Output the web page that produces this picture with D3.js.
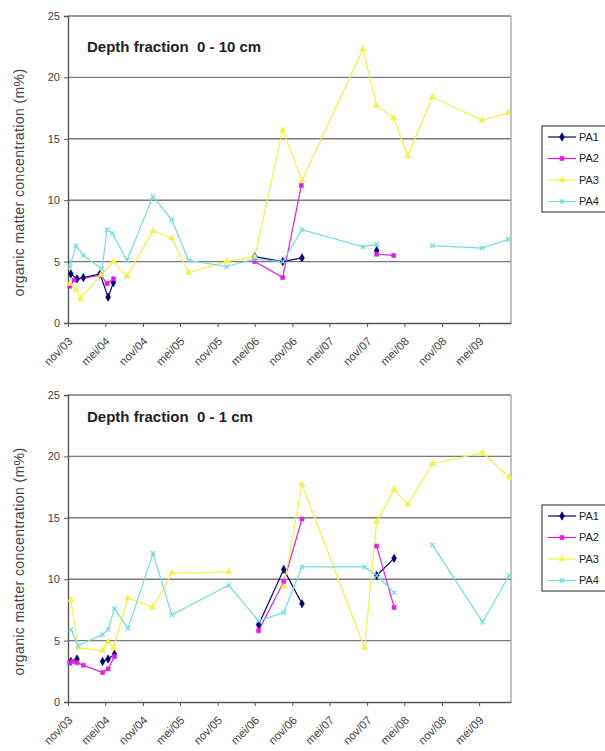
<!DOCTYPE html>
<html>
<head>
<meta charset="utf-8">
<script src="https://cdn.jsdelivr.net/npm/d3@7"></script>
<style>
  body { margin: 0; background: #fff; }
  text { font-family: Arial, "Liberation Sans", sans-serif; }
</style>
</head>
<body>
<div id="chart"></div>
<script>
const width = 605;
const height = 751;

// series names and colours (Excel 2003 default line series)
const seriesNames = ["PA1", "PA2", "PA3", "PA4"];
const seriesColors = ["#000070", "#e020e0", "#f2f247", "#72dede"];

const yTicks = [0, 5, 10, 15, 20, 25];
const tickDates = ["2003-11-01", "2004-05-01", "2004-11-01", "2005-05-01", "2005-11-01", "2006-05-01",
    "2006-11-01", "2007-05-01", "2007-11-01", "2008-05-01", "2008-11-01", "2009-05-01"];
const tickLabels = ["nov/03", "mei/04", "nov/04", "mei/05", "nov/05", "mei/06",
    "nov/06", "mei/07", "nov/07", "mei/08", "nov/08", "mei/09"];

// ---- Depth fraction 0 - 10 cm (null = gap in the line)
const top_pa1_dates = ["2003-11-15", "2003-12-15", "2004-01-15", "2004-04-05", "2004-05-15", "2004-06-10", null,
    "2006-05-01", "2006-09-15", "2006-12-18", null, "2007-12-18"];
const top_pa1 = [4.0, 3.6, 3.7, 4.0, 2.1, 3.3, null, 5.4, 5.0, 5.3, null, 5.9];

const top_pa2_dates = ["2003-11-10", "2003-12-01", "2004-04-10", "2004-05-10", "2004-06-10", null,
    "2006-05-01", "2006-09-15", "2006-12-15", null, "2007-12-18", "2008-03-10"];
const top_pa2 = [3.0, 3.5, 3.9, 3.2, 3.6, null, 5.0, 3.7, 11.2, null, 5.6, 5.5];

const top_pa3_dates = ["2003-11-10", "2003-12-10", "2004-01-01", "2004-04-10", "2004-06-10", "2004-08-15",
    "2004-12-20", "2005-03-22", "2005-06-12", "2005-12-15", "2006-05-01", "2006-09-15", "2006-12-18",
    "2007-10-12", "2007-12-18", "2008-03-10", "2008-05-18", "2008-09-15", "2009-05-15", "2009-09-20"];
const top_pa3 = [3.2, 2.7, 2.0, 3.9, 5.0, 3.8, 7.5, 6.9, 4.1, 5.0, 5.4, 15.7, 11.6,
    22.3, 17.7, 16.7, 13.6, 18.4, 16.5, 17.1];

const top_pa4_dates = ["2003-11-10", "2003-12-10", "2004-01-15", "2004-04-15", "2004-05-10", "2004-06-05",
    "2004-08-15", "2004-12-20", "2005-03-22", "2005-06-12", "2005-12-15", "2006-05-01", "2006-09-15",
    "2006-12-18", "2007-10-12", "2007-12-18", null, "2008-09-15", "2009-05-15", "2009-09-20"];
const top_pa4 = [4.6, 6.3, 5.5, 4.4, 7.6, 7.3, 5.1, 10.3, 8.4, 5.1, 4.6, 5.2, 5.0,
    7.6, 6.2, 6.4, null, 6.3, 6.1, 6.8];

// ---- Depth fraction 0 - 1 cm
const bot_pa1_dates = ["2003-11-15", "2003-12-15", null, "2004-04-18", "2004-05-15", "2004-06-15", null,
    "2006-05-20", "2006-09-20", "2006-12-18", null, "2007-12-18", "2008-03-12"];
const bot_pa1 = [3.3, 3.5, null, 3.3, 3.5, 3.9, null, 6.3, 10.8, 8.0, null, 10.3, 11.7];

const bot_pa2_dates = ["2003-11-10", "2003-11-25", "2003-12-15", "2004-01-15", "2004-04-18", "2004-05-15",
    "2004-06-15", null, "2006-05-20", "2006-09-20", "2006-12-18", null, "2007-12-18", "2008-03-12"];
const bot_pa2 = [3.2, 3.3, 3.2, 3.0, 2.4, 2.7, 3.7, null, 5.8, 9.8, 14.9, null, 12.7, 7.7];

const bot_pa3_dates = ["2003-11-15", "2003-12-20", "2004-04-18", "2004-05-15", "2004-06-10", "2004-08-20",
    "2004-12-20", "2005-03-22", "2005-12-25", null, "2006-09-20", "2006-12-18", "2007-10-20",
    "2007-12-18", "2008-03-12", "2008-05-18", "2008-09-15", "2009-05-18", "2009-09-25"];
const bot_pa3 = [8.3, 4.4, 4.2, 4.9, 4.4, 8.5, 7.7, 10.5, 10.6, null, 9.4, 17.7, 4.4,
    14.7, 17.3, 16.1, 19.4, 20.3, 18.3];

const bot_pa4_dates = ["2003-11-15", "2003-12-20", "2004-04-18", "2004-05-15", "2004-06-15", "2004-08-20",
    "2004-12-20", "2005-03-22", "2005-12-25", "2006-05-20", "2006-09-20", "2006-12-18", "2007-10-20",
    "2007-12-18", "2008-03-12", null, "2008-09-15", "2009-05-18", "2009-09-25"];
const bot_pa4 = [5.9, 4.6, 5.5, 5.9, 7.6, 6.0, 12.1, 7.1, 9.5, 6.6, 7.3, 11.0, 11.0,
    10.3, 8.9, null, 12.8, 6.5, 10.3];

const parse = d3.timeParse("%Y-%m-%d");

function makeSeries(dates, values) {
    return dates.map((d, i) => ({ date: d ? parse(d) : null, v: values[i] }));
}

const panels = [
    {
        title: "Depth fraction  0 - 10 cm",
        top: 16, bottom: 323, titleY: 52, legendTop: 126,
        series: [makeSeries(top_pa1_dates, top_pa1), makeSeries(top_pa2_dates, top_pa2),
                 makeSeries(top_pa3_dates, top_pa3), makeSeries(top_pa4_dates, top_pa4)]
    },
    {
        title: "Depth fraction  0 - 1 cm",
        top: 395, bottom: 702, titleY: 422, legendTop: 505,
        series: [makeSeries(bot_pa1_dates, bot_pa1), makeSeries(bot_pa2_dates, bot_pa2),
                 makeSeries(bot_pa3_dates, bot_pa3), makeSeries(bot_pa4_dates, bot_pa4)]
    }
];

const symbols = [d3.symbolDiamond, d3.symbolSquare, d3.symbolTriangle, d3.symbolTimes];
const symbolSizes = [20, 16, 16, 14];

const svg = d3.select("#chart")
    .append("svg")
    .attr("width", width)
    .attr("height", height);

const left = 68, right = 511;

function drawPanel(p) {
    const g = svg.append("g");

    const x = d3.scaleTime()
        .domain([parse("2003-11-01"), parse("2009-10-04")])
        .range([left, right]);
    const y = d3.scaleLinear()
        .domain([0, 25])
        .range([p.bottom, p.top]);

    // gridlines + plot border
    g.selectAll(".grid")
        .data(yTicks.slice(1))
        .enter()
        .append("line")
        .attr("x1", left).attr("x2", right)
        .attr("y1", d => y(d)).attr("y2", d => y(d))
        .attr("stroke", "#7a7a7a")
        .attr("stroke-width", 1.4);

    g.append("line")
        .attr("x1", right).attr("x2", right)
        .attr("y1", p.top).attr("y2", p.bottom)
        .attr("stroke", "#9a9a9a")
        .attr("stroke-width", 1.2);

    // y axis
    const yAxis = g.append("g")
        .attr("transform", `translate(${left},0)`)
        .call(d3.axisLeft(y).tickValues(yTicks).tickSize(4).tickPadding(4));
    yAxis.select(".domain").attr("stroke", "#555").attr("stroke-width", 1.4);
    yAxis.selectAll(".tick line").attr("stroke", "#555");
    yAxis.selectAll("text").attr("font-size", "11px").attr("fill", "#444");

    // x axis
    const xAxis = g.append("g")
        .attr("transform", `translate(0,${p.bottom})`)
        .call(d3.axisBottom(x)
            .tickValues(tickDates.map(parse))
            .tickFormat((d, i) => tickLabels[i])
            .tickSize(4)
            .tickSizeOuter(0));
    xAxis.select(".domain").attr("stroke", "#555").attr("stroke-width", 1.4);
    xAxis.selectAll(".tick line").attr("stroke", "#555");
    xAxis.selectAll("text")
        .attr("x", 0).attr("y", 0).attr("dy", "0.35em")
        .attr("transform", "translate(2,16) rotate(-45)")
        .style("text-anchor", "end")
        .attr("font-size", "11.5px")
        .attr("fill", "#444");

    // y axis title
    g.append("text")
        .attr("transform", `translate(24,${(p.top + p.bottom) / 2 + 13}) rotate(-90)`)
        .attr("text-anchor", "middle")
        .attr("font-size", "14px")
        .attr("letter-spacing", "0.4px")
        .attr("fill", "#444")
        .text("organic matter concentration (m%)");

    // panel title
    g.append("text")
        .attr("x", 87)
        .attr("y", p.titleY)
        .attr("font-size", "15px")
        .attr("font-weight", "bold")
        .attr("fill", "#222")
        .style("white-space", "pre")
        .text(p.title);

    // lines
    const line = d3.line()
        .defined(d => d.v != null)
        .x(d => x(d.date))
        .y(d => y(d.v));

    p.series.forEach((s, i) => {
        g.append("path")
            .datum(s)
            .attr("d", line)
            .attr("fill", "none")
            .attr("stroke", seriesColors[i])
            .attr("stroke-width", 1.2);
    });

    // markers
    p.series.forEach((s, i) => {
        const sym = d3.symbol().type(symbols[i]).size(symbolSizes[i]);
        g.selectAll(".m" + i)
            .data(s.filter(d => d.v != null))
            .enter()
            .append("path")
            .attr("transform", d => `translate(${x(d.date)},${y(d.v)})`)
            .attr("d", sym)
            .attr("fill", i == 3 ? "none" : seriesColors[i])
            .attr("stroke", seriesColors[i])
            .attr("stroke-width", i == 3 ? 1.3 : 0.6);
    });

    // legend
    const lg = g.append("g");
    lg.append("rect")
        .attr("x", 542).attr("y", p.legendTop)
        .attr("width", 75).attr("height", 86)
        .attr("fill", "#fff")
        .attr("stroke", "#222")
        .attr("stroke-width", 1);

    seriesNames.forEach((name, i) => {
        const ly = p.legendTop + 11 + i * 21.5;
        lg.append("line")
            .attr("x1", 548).attr("x2", 576)
            .attr("y1", ly).attr("y2", ly)
            .attr("stroke", seriesColors[i])
            .attr("stroke-width", 1.2);
        lg.append("path")
            .attr("transform", `translate(562,${ly})`)
            .attr("d", d3.symbol().type(symbols[i]).size(symbolSizes[i]))
            .attr("fill", i == 3 ? "none" : seriesColors[i])
            .attr("stroke", seriesColors[i])
            .attr("stroke-width", i == 3 ? 1.3 : 0.6);
        lg.append("text")
            .attr("x", 579)
            .attr("y", ly)
            .attr("dy", "0.35em")
            .attr("font-size", "11px")
            .attr("fill", "#222")
            .text(name);
    });
}

panels.forEach(drawPanel);
</script>
</body>
</html>
